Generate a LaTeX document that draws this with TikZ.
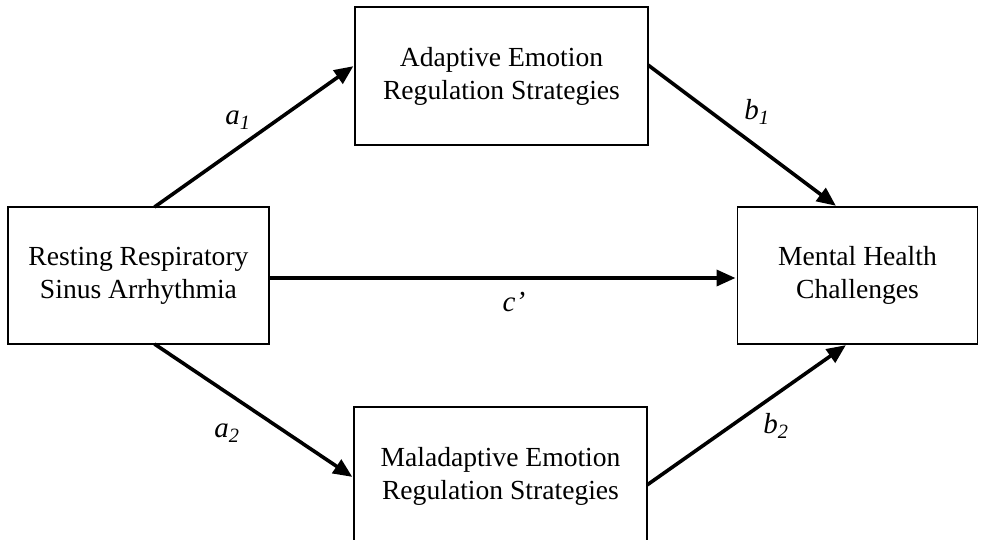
\documentclass[tikz,border=0pt]{standalone}
\usepackage{fontspec}
\setmainfont{Liberation Serif}
\usetikzlibrary{arrows.meta}

\begin{document}
\begin{tikzpicture}[x=1pt,y=-1pt,
    box/.style={draw,line width=1.6pt,rectangle,outer sep=0pt,inner sep=0pt,
        align=center,font=\fontsize{27.6}{33}\selectfont},
    arr/.style={line width=3.6pt,-{Triangle[length=19pt,width=16pt]},shorten >=2pt},
    lbl/.style={font=\fontsize{29}{33}\selectfont\itshape,inner sep=0pt}]
    \useasboundingbox (0,0) rectangle (985,539);

    \node[box,minimum width=261pt,minimum height=137pt] (rsa) at (138.5,275.5)
        {Resting Respiratory\\Sinus Arrhythmia};
    \node[box,minimum width=293pt,minimum height=138pt] (adapt) at (501.5,76)
        {Adaptive Emotion\\Regulation Strategies};
    \node[box,minimum width=293pt,minimum height=138pt] (malad) at (500.5,476)
        {Maladaptive Emotion\\Regulation Strategies};
    \node[box,minimum width=240pt,minimum height=137pt] (mhc) at (857.5,275.5)
        {Mental Health\\Challenges};

    % paths
    \draw[arr] ([xshift=16pt]rsa.north) -- ([yshift=11pt]adapt.west);
    \draw[arr] ([yshift=11pt]adapt.east) -- ([xshift=-20pt]mhc.north);
    \draw[arr] ([yshift=-2.5pt]rsa.east) -- ([yshift=-2.5pt]mhc.west);
    \draw[arr] ([xshift=16pt]rsa.south) -- ([yshift=-2pt]malad.west);
    \draw[arr] ([yshift=-9pt]malad.east) -- ([xshift=-10pt]mhc.south);

    % coefficients
    \node[lbl] (la1) at (238,120) {a\textsubscript{1}};
    \node[lbl] (lb1) at (757,112) {b\textsubscript{1}};
    \node[lbl] (lc) at (514,302) {c’};
    \node[lbl] (la2) at (227,433) {a\textsubscript{2}};
    \node[lbl] (lb2) at (776,426) {b\textsubscript{2}};
\end{tikzpicture}
\end{document}
